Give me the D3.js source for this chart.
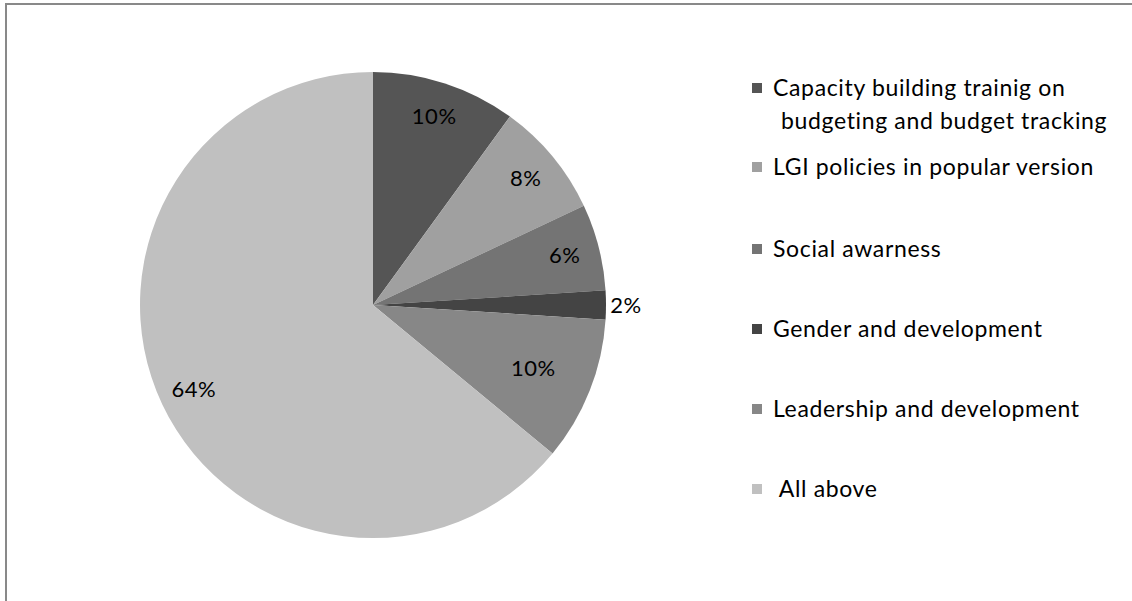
<!DOCTYPE html>
<html>
<head>
<meta charset="utf-8">
<script src="https://cdn.jsdelivr.net/npm/d3@7"></script>
<style>
  body { margin: 0; background: #fff; }
  svg { display: block; font-family: Lato, "Open Sans", sans-serif; }
</style>
</head>
<body>
<svg id="chart" width="1132" height="601"></svg>
<script>
// data
const categories = [
  "Capacity building trainig on|budgeting and budget tracking",
  "LGI policies in popular version",
  "Social awarness",
  "Gender and development",
  "Leadership and development",
  " All above"
];
const values = [10, 8, 6, 2, 10, 64];
const colors = ["#555555", "#a0a0a0", "#747474", "#444444", "#878787", "#c0c0c0"];

const width = 1132, height = 601;
const cx = 373, cy = 305, radius = 233;

const svg = d3.select("#chart");

// outer frame (only top/left visible in the crop)
svg.append("rect")
  .attr("x", 6).attr("y", 4)
  .attr("width", width + 20).attr("height", height + 20)
  .attr("fill", "none")
  .attr("stroke", "#898989")
  .attr("stroke-width", 2);

const data = categories.map((c, i) => ({ name: c, value: values[i], color: colors[i] }));
const total = d3.sum(values);

const pie = d3.pie().value(d => d.value).sort(null);
const arcs = pie(data);
const arc = d3.arc().innerRadius(0).outerRadius(radius);

const g = svg.append("g").attr("transform", `translate(${cx},${cy})`);

g.selectAll("path")
  .data(arcs)
  .join("path")
    .attr("d", arc)
    .attr("fill", d => d.data.color);

// label placement: inside at ~0.85R, thin slices go outside
function labelPos(d, i) {
  let r = radius * 0.85;
  if (i === 4) r = radius * 0.74;
  if (d.data.value / total < 0.04) r = radius + 20;
  const a = (d.startAngle + d.endAngle) / 2;
  return [Math.sin(a) * r, -Math.cos(a) * r - 1];
}

g.selectAll("text.lbl")
  .data(arcs)
  .join("text")
    .attr("class", "lbl")
    .attr("x", (d, i) => labelPos(d, i)[0])
    .attr("y", (d, i) => labelPos(d, i)[1])
    .attr("text-anchor", "middle")
    .attr("dominant-baseline", "central")
    .attr("font-size", 22)
    .attr("letter-spacing", 0.5)
    .attr("fill", "#000")
    .text(d => Math.round(d.value / total * 100) + "%");

// legend
const legendRows = [88, 167, 249, 329, 409, 489];
const legend = svg.append("g");

const item = legend.selectAll("g")
  .data(data)
  .join("g")
    .attr("transform", (d, i) => `translate(752,${legendRows[i]})`);

item.append("rect")
  .attr("x", 0).attr("y", -5)
  .attr("width", 10).attr("height", 10)
  .attr("fill", d => d.color);

item.append("text")
  .attr("x", 21)
  .attr("font-size", 23)
  .attr("letter-spacing", 0.65)
  .attr("fill", "#000")
  .style("white-space", "pre")
  .each(function(d) {
    const lines = d.name.split("|");
    const t = d3.select(this);
    lines.forEach((l, j) => {
      t.append("tspan")
        .attr("x", j === 0 ? 21 : 29)
        .attr("y", j * 33)
        .attr("dy", "0.35em")
        .text(l);
    });
  });
</script>
</body>
</html>
